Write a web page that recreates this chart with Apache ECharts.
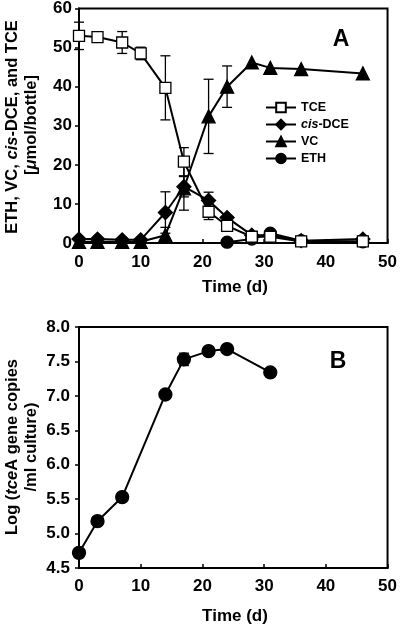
<!DOCTYPE html>
<html><head><meta charset="utf-8">
<script src="https://cdn.jsdelivr.net/npm/echarts@6/dist/echarts.min.js"></script>
<style>html,body{margin:0;padding:0;background:#fff}#c{width:400px;height:626px}</style>
</head><body><div id="c"></div>
<script>
// Panel A data
const timeA = [0, 3, 7, 10, 14, 17, 21, 24, 28, 31, 36, 46];
const tce    = [53, 52.7, 51.3, 48.5, 39.7, 20.8, 8, 4.4, 1.6, 1.6, 0.4, 0.4];
const tceErr = [3.5, 0.5, 2.8, 1.6, 8.2, 3.6, 2, 0, 0, 0, 0, 0];
const dce    = [1, 1, 0.8, 0.8, 7.8, 14.4, 10.9, 6.5, 2, 2, 0.6, 1];
const dceErr = [0, 0, 0, 0, 5.3, 2.6, 2.1, 0, 0, 0, 0, 0];
const vc     = [0.3, 0.3, 0.3, 0.3, 2, 14, 32.4, 40, 46.2, 44.8, 44.5, 43.4];
const vcErr  = [0, 0, 0, 0, 2, 5.6, 9.5, 5.3, 0, 0, 0, 0];
const timeEth = [24, 28, 31, 36, 46];
const eth    = [0.2, 1, 2.5, 0.6, 0.3];
const ethErr = [0, 0, 0, 0, 1.5];
// Panel B data
const timeB  = [0, 3, 7, 14, 17, 21, 24, 31];
const copies = [4.72, 5.18, 5.53, 7.02, 7.53, 7.65, 7.68, 7.34];
const copiesErr = [0, 0, 0, 0, 0.09, 0, 0.03, 0];

const FONT = 'Liberation Sans, Arial, sans-serif';
const pairs = (xs, ys) => xs.map((x, i) => [x, ys[i]]);
const triples = (xs, ys, es) => xs.map((x, i) => [x, ys[i], es[i]]);

function errItem(clipMin) {
  return function (params, api) {
    const x = api.value(0), y = api.value(1), e = api.value(2);
    if (!e) return null;
    const lo = Math.max(y - e, clipMin);
    const p1 = api.coord([x, y + e]), p2 = api.coord([x, lo]);
    const w = 5;
    const st = { stroke: '#000', lineWidth: 1.3 };
    return { type: 'group', children: [
      { type: 'line', shape: { x1: p1[0], y1: p1[1], x2: p2[0], y2: p2[1] }, style: st },
      { type: 'line', shape: { x1: p1[0] - w, y1: p1[1], x2: p1[0] + w, y2: p1[1] }, style: st },
      { type: 'line', shape: { x1: p2[0] - w, y1: p2[1], x2: p2[0] + w, y2: p2[1] }, style: st }
    ]};
  };
}

const axisLabelStyle = { color: '#000', fontFamily: FONT, fontWeight: 'bold', fontSize: 17 };

function xAxis(gi, margin) {
  return { type: 'value', gridIndex: gi, min: 0, max: 50, interval: 10,
    axisLine: { lineStyle: { color: '#000', width: 2 } },
    axisTick: { inside: true, length: 4, lineStyle: { color: '#000', width: 1.5 } },
    axisLabel: Object.assign({ margin: margin }, axisLabelStyle),
    splitLine: { show: false } };
}
function yAxis(gi, min, max, interval, margin, fmt) {
  return { type: 'value', gridIndex: gi, min: min, max: max, interval: interval,
    axisLine: { show: true, lineStyle: { color: '#000', width: 2 } },
    axisTick: { show: true, inside: false, length: 4, lineStyle: { color: '#000', width: 1.5 } },
    axisLabel: Object.assign({ margin: margin, formatter: fmt }, axisLabelStyle),
    splitLine: { show: false } };
}

const lineStyle = { color: '#000', width: 2 };
function lineSeries(name, data, symbol, size, fill, gi, z) {
  return { name: name, type: 'line', xAxisIndex: gi, yAxisIndex: gi, data: data,
    symbol: symbol, symbolSize: size, showAllSymbol: true, z: z,
    lineStyle: lineStyle,
    itemStyle: { color: fill, borderColor: '#000', borderWidth: 1.3 } };
}
function errSeries(data, gi, clipMin) {
  return { type: 'custom', xAxisIndex: gi, yAxisIndex: gi, data: data,
    renderItem: errItem(clipMin), z: 1, silent: true };
}
const rich = { n: { fontFamily: FONT, fontWeight: 'bold', fontSize: 16.5 },
               i: { fontFamily: FONT, fontWeight: 'bold', fontStyle: 'italic', fontSize: 16.5 } };

const chart = echarts.init(document.getElementById('c'), null, { renderer: 'canvas' });
chart.setOption({
  animation: false,
  backgroundColor: '#fff',
  grid: [
    { left: 79, width: 312, top: 6, height: 237, show: true, borderColor: '#000', borderWidth: 2, backgroundColor: 'transparent' },
    { left: 79, width: 312, top: 327, height: 241, show: true, borderColor: '#000', borderWidth: 2, backgroundColor: 'transparent' }
  ],
  xAxis: [xAxis(0, 11), xAxis(1, 9.5)],
  yAxis: [
    yAxis(0, 0, 60, 10, 7, v => String(v)),
    yAxis(1, 4.5, 8, 0.5, 9, v => v.toFixed(1))
  ],
  legend: {
    orient: 'vertical', left: 265, top: 101, padding: 0, itemGap: 4,
    itemWidth: 30, itemHeight: 12,
    textStyle: { color: '#000', fontFamily: FONT, fontWeight: 'bold', fontSize: 12.5,
      rich: { i: { fontStyle: 'italic', fontWeight: 'bold', fontFamily: FONT, fontSize: 12.5 },
              n: { fontWeight: 'bold', fontFamily: FONT, fontSize: 12.5 } } },
    formatter: function (name) { return name === 'cis-DCE' ? '{i|cis}{n|-DCE}' : name; },
    data: ['TCE', 'cis-DCE', 'VC', 'ETH']
  },
  series: [
    errSeries(triples(timeA, tce, tceErr), 0, 0),
    errSeries(triples(timeA, dce, dceErr), 0, 0),
    errSeries(triples(timeA, vc, vcErr), 0, 0),
    errSeries(triples(timeEth, eth, ethErr), 0, 0),
    lineSeries('ETH', pairs(timeEth, eth), 'circle', 12, '#000', 0, 3),
    lineSeries('VC', pairs(timeA, vc), 'triangle', 13, '#000', 0, 4),
    lineSeries('cis-DCE', pairs(timeA, dce), 'diamond', 14, '#000', 0, 5),
    lineSeries('TCE', pairs(timeA, tce), 'rect', 11, '#fff', 0, 6),
    errSeries(triples(timeB, copies, copiesErr), 1, 4.5),
    lineSeries('copies', pairs(timeB, copies), 'circle', 13, '#000', 1, 3)
  ],
  graphic: [
    { type: 'text', x: 341, y: 40, style: { text: 'A', fontFamily: FONT, fontWeight: 'bold', fontSize: 23, fill: '#000', align: 'center', verticalAlign: 'middle' } },
    { type: 'text', x: 338, y: 362, style: { text: 'B', fontFamily: FONT, fontWeight: 'bold', fontSize: 23, fill: '#000', align: 'center', verticalAlign: 'middle' } },
    { type: 'text', x: 235, y: 287, style: { text: 'Time (d)', fontFamily: FONT, fontWeight: 'bold', fontSize: 17, fill: '#000', align: 'center', verticalAlign: 'middle' } },
    { type: 'text', x: 235, y: 616, style: { text: 'Time (d)', fontFamily: FONT, fontWeight: 'bold', fontSize: 17, fill: '#000', align: 'center', verticalAlign: 'middle' } },
    { type: 'text', x: 12, y: 127, rotation: Math.PI / 2,
      style: { text: '{n|ETH, VC, }{i|cis}{n|-DCE, and TCE}', fill: '#000', align: 'center', verticalAlign: 'middle', rich: rich } },
    { type: 'text', x: 31, y: 125, rotation: Math.PI / 2,
      style: { text: '{n|[}{i|μ}{n|mol/bottle]}', fill: '#000', align: 'center', verticalAlign: 'middle', rich: rich } },
    { type: 'text', x: 12, y: 447, rotation: Math.PI / 2,
      style: { text: '{n|Log (}{i|tce}{n|A gene copies}', fill: '#000', align: 'center', verticalAlign: 'middle', rich: rich } },
    { type: 'text', x: 31, y: 447, rotation: Math.PI / 2,
      style: { text: '/ml culture)', fontFamily: FONT, fontWeight: 'bold', fontSize: 16.5, fill: '#000', align: 'center', verticalAlign: 'middle' } }
  ]
});
</script></body></html>
